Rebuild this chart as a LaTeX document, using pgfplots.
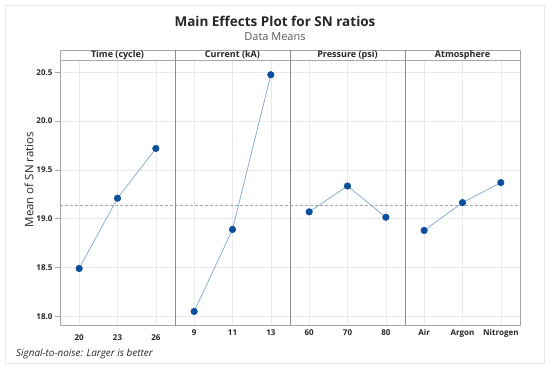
\documentclass[border=0pt]{standalone}
\usepackage{pgfplots}
\pgfplotsset{compat=1.18}
\usepackage{fontspec}
\setmainfont{Open Sans}
\definecolor{ptblue}{HTML}{0B4F9C}
\definecolor{lnblue}{HTML}{7FA6D4}
\definecolor{framec}{HTML}{A6A6A6}
\definecolor{gridc}{HTML}{EAEAEA}
\definecolor{txt}{HTML}{262626}
\pgfplotsset{
 panel/.style={
  scale only axis, width=115pt, height=264.8pt,
  anchor=south west,
  xmin=0.5, xmax=3.5, ymin=17.908, ymax=20.621,
  xtick={1,2,3}, ytick={18,18.5,19,19.5,20,20.5},
  grid=major, major grid style={gridc, line width=0.6pt},
  axis line style={framec, line width=0.8pt},
  xtick style={draw=none},
  ytick style={draw=none},
  yticklabels={},
  xticklabel style={font=\fontsize{8}{9}\selectfont\bfseries, text=txt, yshift=-1pt},
  clip=false,
 },
 mean/.style={densely dashed, color=framec, line width=0.5pt},
 ser/.style={lnblue, line width=0.7pt, mark=*, mark size=3.2pt, mark options={ptblue, fill=ptblue}},
}
\begin{document}
\begin{tikzpicture}
\path[use as bounding box] (0pt,0pt) rectangle (550pt,369pt);
\draw[color=black!9, line width=0.8pt] (5pt,6pt) rectangle (544pt,364pt);

% Panel 1
\begin{axis}[panel, name=p1, at={(60pt,43.7pt)},
  xticklabels={20,23,26},
  yticklabels={18.0,18.5,19.0,19.5,20.0,20.5},
  ytick style={draw=framec, line width=0.6pt},
  major tick length=5pt, tick align=outside,
  yticklabel style={font=\fontsize{8}{9}\selectfont\bfseries, text=txt, xshift=1pt},
  ylabel={Mean of SN ratios},
  ylabel style={font=\fontsize{11.5}{13}\selectfont, text=txt, at={(rel axis cs:0,0.55)}, anchor=south, yshift=23pt},
]
\addplot[mean] coordinates {(0.5,19.137) (3.5,19.137)};
\addplot[ser] coordinates {(1,18.49) (2,19.21) (3,19.72)};
\end{axis}

% Panel 2
\begin{axis}[panel, name=p2, at={(175pt,43.7pt)},
  xticklabels={9,11,13}]
\addplot[mean] coordinates {(0.5,19.137) (3.5,19.137)};
\addplot[ser] coordinates {(1,18.05) (2,18.89) (3,20.475)};
\end{axis}

% Panel 3
\begin{axis}[panel, name=p3, at={(290pt,43.7pt)},
  xticklabels={60,70,80}]
\addplot[mean] coordinates {(0.5,19.137) (3.5,19.137)};
\addplot[ser] coordinates {(1,19.07) (2,19.335) (3,19.015)};
\end{axis}

% Panel 4
\begin{axis}[panel, name=p4, at={(405pt,43.7pt)},
  xticklabels={Air,Argon,Nitrogen}]
\addplot[mean] coordinates {(0.5,19.137) (3.5,19.137)};
\addplot[ser] coordinates {(1,18.88) (2,19.165) (3,19.37)};
\end{axis}

% strips
\foreach \i/\lab in {0/Time (cycle),1/Current (kA),2/Pressure (psi),3/Atmosphere}{
  \draw[framec, line width=0.8pt] ({60pt+115pt*\i},308.5pt) rectangle ({175pt+115pt*\i},319pt);
  \node[anchor=base, font=\fontsize{9}{10}\selectfont\bfseries, text=txt, inner sep=0pt] at ({117.5pt+115pt*\i},311pt) {\lab};
}
\foreach \i in {1,2,3}{
  \draw[black!45, line width=0.9pt] ({60pt+115pt*\i},43.7pt) -- ({60pt+115pt*\i},319pt);
}

% titles
\node[anchor=base, font=\fontsize{13.5}{16}\selectfont\bfseries, text=txt, inner sep=0pt] at (275pt,342pt) {Main Effects Plot for SN ratios};
\node[anchor=base, font=\fontsize{11}{13}\selectfont, text=black!65, inner sep=0pt] at (275pt,328pt) {Data Means};
\node[anchor=base west, font=\fontsize{9.9}{11}\selectfont\itshape, text=txt, inner sep=0pt] at (16pt,12pt) {Signal-to-noise: Larger is better};
\end{tikzpicture}
\end{document}
